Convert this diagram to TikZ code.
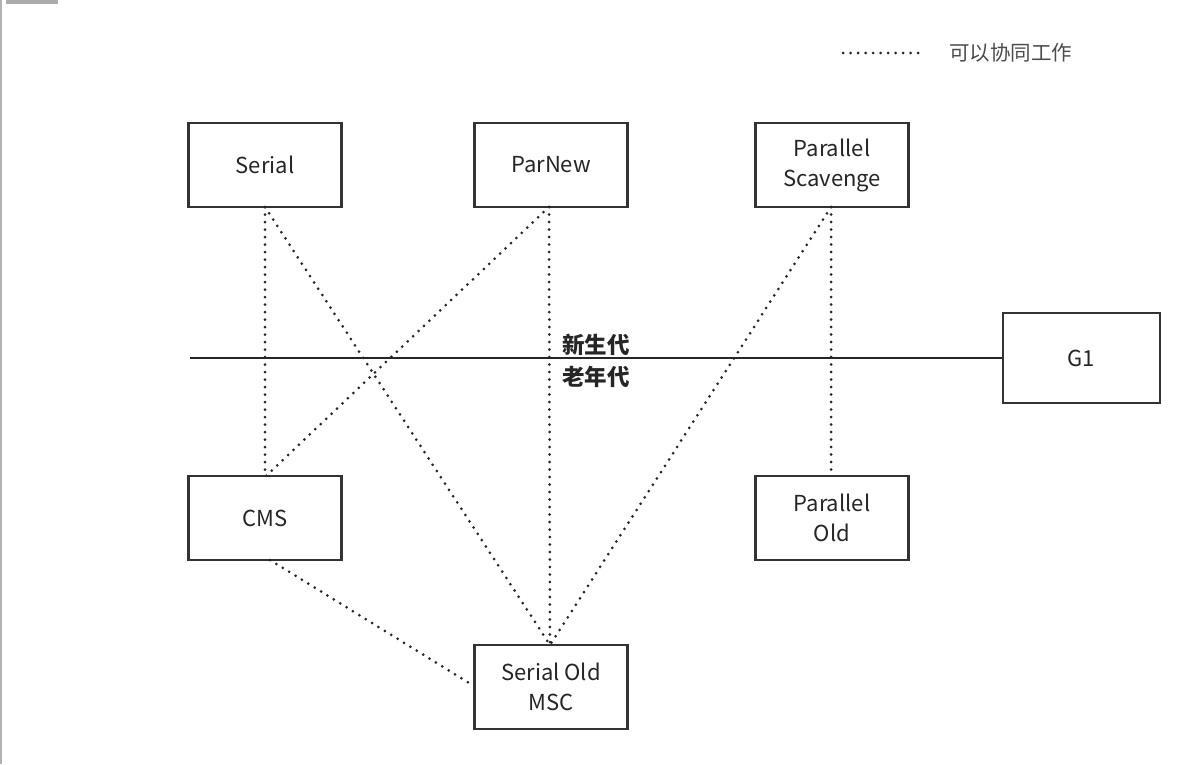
\documentclass[tikz,border=0pt]{standalone}
\usepackage{fontspec}
\setmainfont{Noto Sans CJK SC}
\begin{document}
\begin{tikzpicture}[x=1pt,y=-1pt,
  gcbox/.style={draw=black!80, line width=2.4pt, minimum width=153pt, minimum height=84pt,
     inner sep=0pt, align=center, text=black!85, font=\fontsize{22}{30}\selectfont},
  coop/.style={black!85, line width=3pt, line cap=round, dash pattern=on 0pt off 7.5pt},
  divider/.style={black!85, line width=2.2pt},
  genlabel/.style={font=\fontsize{22.5}{26}\selectfont\bfseries, text=black!85, inner sep=0pt}]
\useasboundingbox (0,0) rectangle (1198,764);
\fill[white] (0,0) rectangle (1198,764);
% screenshot frame artifacts
\fill[black!30] (0,0) rectangle (1.5,764);
\fill[black!33] (6,0) rectangle (58,4);
% boxes
\node[gcbox] (serial) at (265,165) {Serial};
\node[gcbox] (parnew) at (551,165) {ParNew};
\node[gcbox] (pscav) at (832,165) {Parallel\\Scavenge};
\node[gcbox, minimum width=157pt, minimum height=90pt] (g1) at (1081.5,358) {G1};
\node[gcbox] (cms) at (265,518) {CMS};
\node[gcbox] (pold) at (832,518) {Parallel\\Old};
\node[gcbox] (sold) at (551,687) {Serial Old\\MSC};
% divider line
\coordinate (divL) at (190,358);
\draw[divider] (divL) -- (g1.west);
\node[genlabel] (young) at (596,345) {新生代};
\node[genlabel] (old) at (596,377) {老年代};
% connectors
\coordinate (serialB) at (265,207);
\coordinate (parnewB) at (549,207);
\coordinate (pscavB) at (831,207);
\coordinate (cmsT) at (265,477);
\coordinate (cmsB) at (270,560);
\coordinate (soldT) at (550,645);
\coordinate (soldL) at (474,686);
\coordinate (poldT) at (831,477);
\draw[coop] (serialB) -- (cmsT);
\draw[coop] (serialB) -- (soldT);
\draw[coop] (parnewB) -- (cmsT);
\draw[coop] (parnewB) -- (soldT);
\draw[coop] (pscavB) -- (soldT);
\draw[coop] (pscavB) -- (poldT);
\draw[coop] (cmsB) -- (soldL);
% legend
\coordinate (legA) at (843,53);
\coordinate (legB) at (922,53);
\draw[coop] (legA) -- (legB);
\node[anchor=west, inner sep=0pt, text=black!70, font=\fontsize{20.5}{24}\selectfont] (legtext) at (949,53) {可以协同工作};
\end{tikzpicture}
\end{document}
